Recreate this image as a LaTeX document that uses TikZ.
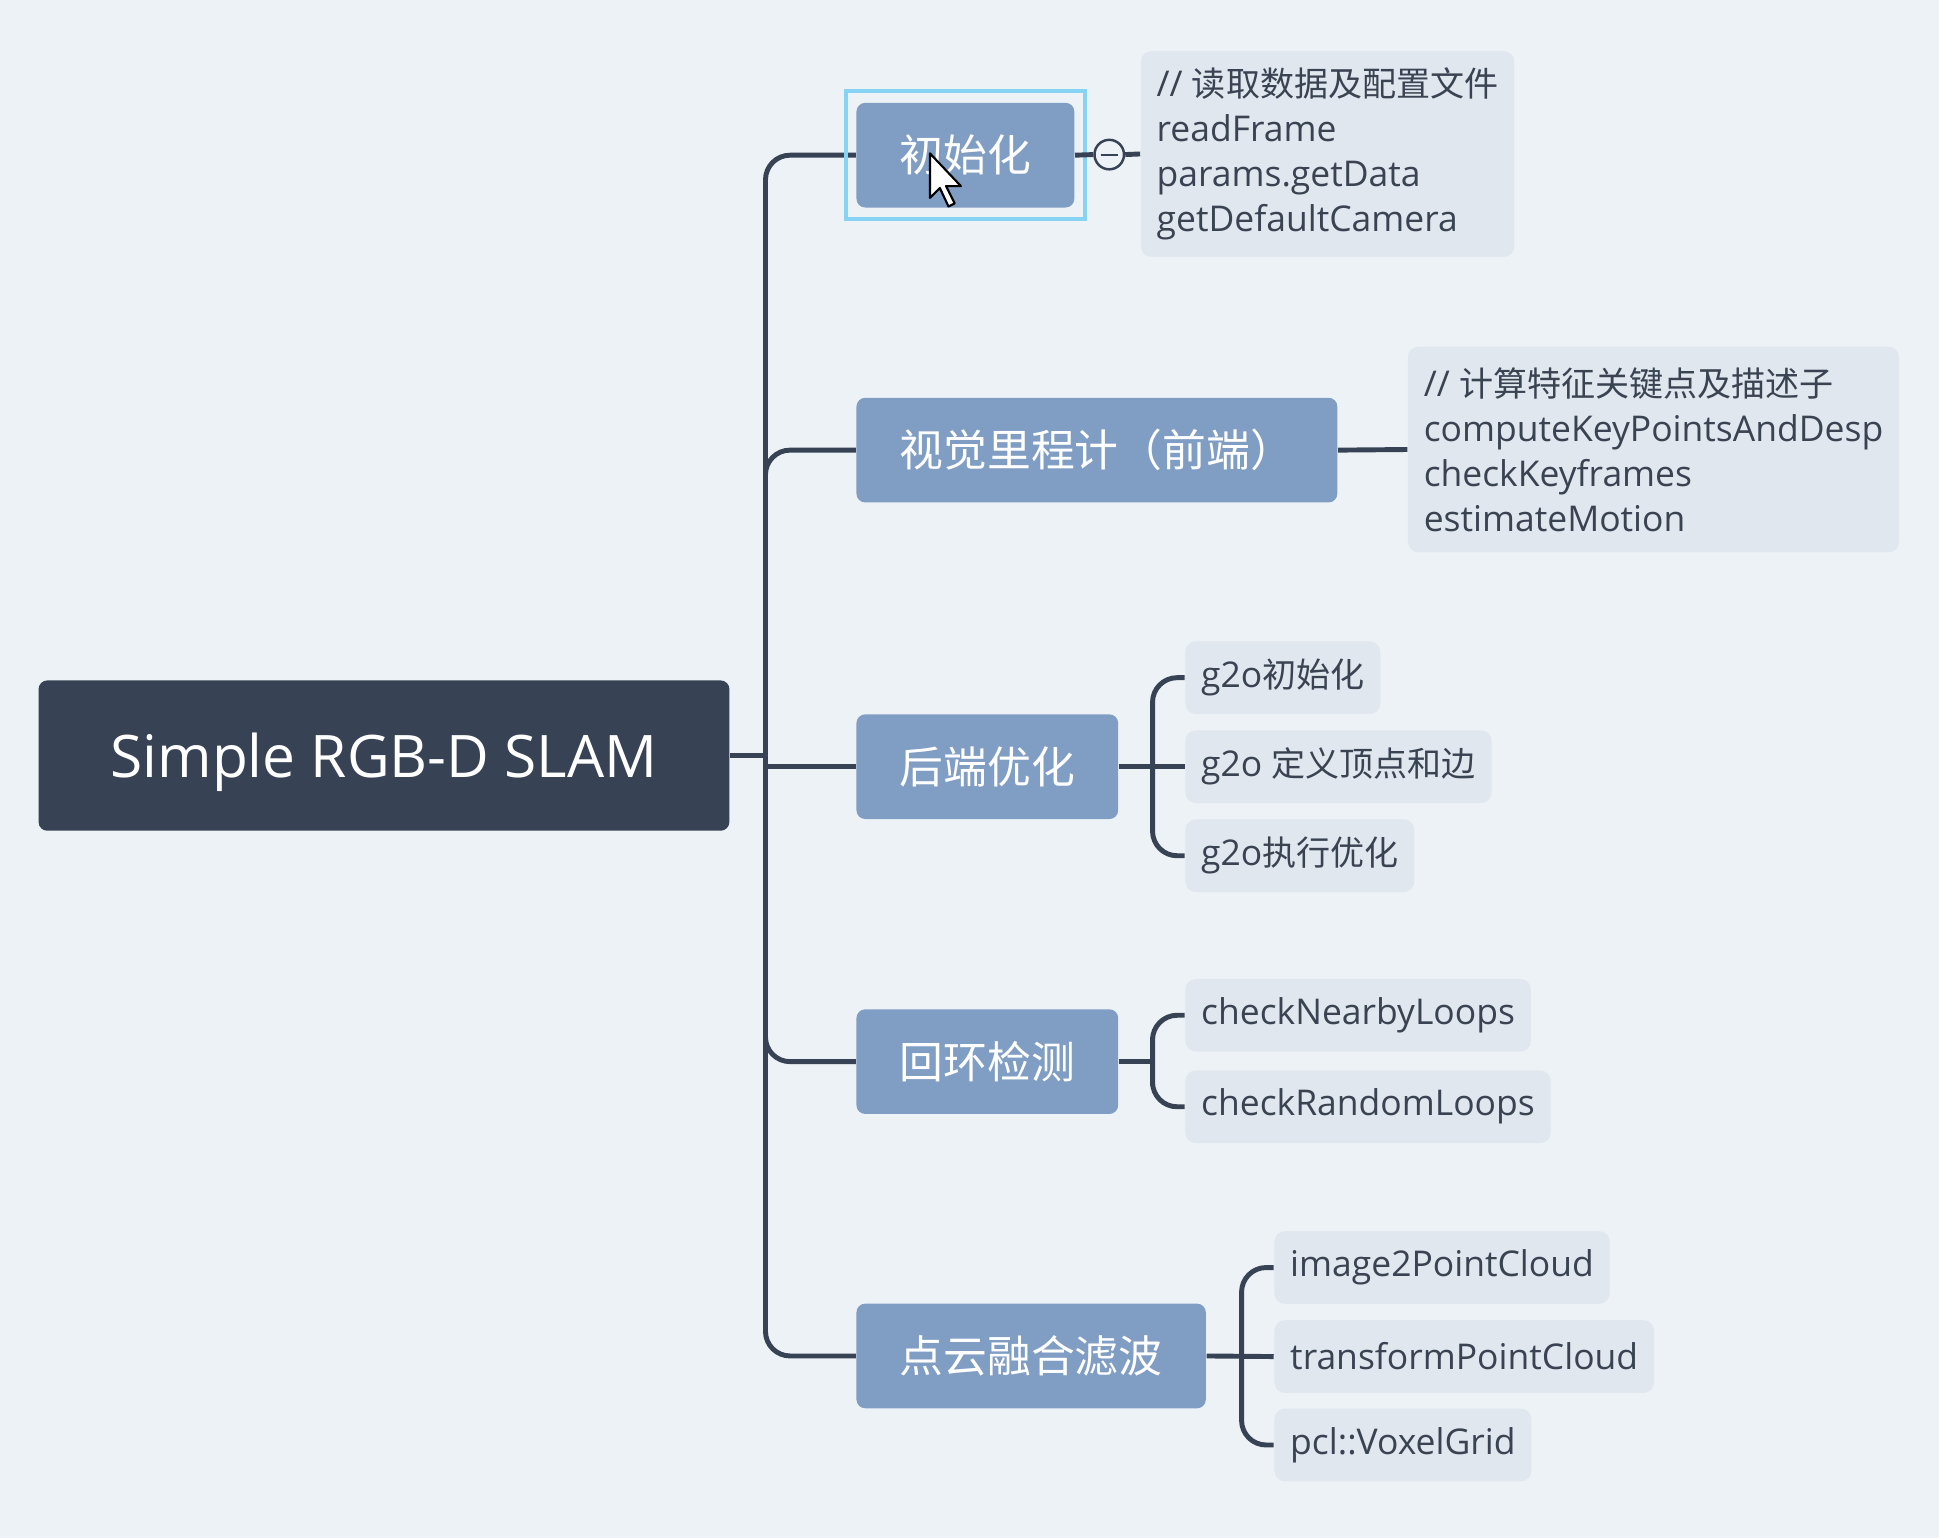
\documentclass[tikz,border=0pt]{standalone}
\usepackage{fontspec}
\setmainfont{Open Sans}
\newfontfamily\cjk[Scale=0.96]{Noto Sans CJK SC}
\usetikzlibrary{calc}

\definecolor{bgcol}{HTML}{EDF2F7}
\definecolor{rootcol}{HTML}{374254}
\definecolor{midcol}{HTML}{809DC3}
\definecolor{leafcol}{HTML}{E1E7EE}
\definecolor{txtcol}{HTML}{3A4352}
\definecolor{selcol}{HTML}{86D3F3}

\tikzset{
  link/.style={draw=rootcol, line width=1.4pt, rounded corners=7pt},
  rootbox/.style={fill=rootcol, rounded corners=2.5pt, text=white, minimum width=196.7pt,
    minimum height=42.8pt, text depth=0pt, font=\fontsize{16.7}{20}\selectfont},
  topic/.style={fill=midcol, rounded corners=2.5pt, text=white, anchor=west, inner xsep=12.3pt,
    minimum height=29.8pt, font=\fontsize{13}{15}\selectfont},
  leaf/.style={fill=leafcol, rounded corners=3pt, text=txtcol, anchor=west, inner xsep=4.5pt,
    minimum height=20.7pt, font=\fontsize{10.1}{12.8}\selectfont},
  note/.style={leaf, align=left, minimum height=58.6pt},
}

\begin{document}
\begin{tikzpicture}[x=0.01237cm,y=-0.01237cm]
   \fill[bgcol] (0,0) rectangle (1568,1244);
   \useasboundingbox (0,0) rectangle (1568,1244);

   % root and main topics
   \node[rootbox] (root) at (310.5,611) {Simple RGB-D SLAM};
   \coordinate (hub) at (619,611);
   \node[topic] (init)  at (692,125.5)  {\cjk 初始化};
   \node[topic] (vo)    at (692,364)    {\cjk 视觉里程计（前端）};
   \node[topic] (be)    at (692,620)    {\cjk 后端优化};
   \node[topic] (loop)  at (692,858.5)  {\cjk 回环检测};
   \node[topic] (cloud) at (692,1096.5) {\cjk 点云融合滤波};
   \draw[link] (root.east) -- (hub);
   \foreach \t in {init,vo,loop,cloud}
      \draw[link] (hub) |- (\t.west);
   \draw[link, sharp corners] (hub) -- (hub |- be.west) -- (be.west);

   % selection frame and fold button
   \draw[selcol, line width=1.1pt] ($(init.north west)+(-8,-9)$) rectangle ($(init.south east)+(8,9)$);
   \node[circle, draw=rootcol, fill=bgcol, line width=0.7pt, minimum size=8.4pt, inner sep=0pt]
      (fold) at (897,125) {};
   \draw[rootcol, line width=0.6pt] ($(fold.center)+(-7,0)$) -- ($(fold.center)+(7,0)$);

   % notes
   \node[note] (n1) at (922,124.5)
      {// {\cjk 读取数据及配置文件}\\readFrame\\params.getData\\getDefaultCamera};
   \node[note] (n2) at (1138,363.5)
      {// {\cjk 计算特征关键点及描述子}\\computeKeyPointsAndDesp\\checkKeyframes\\estimateMotion};
   \draw[link] (init.east) -- (fold.west);
   \draw[link] (fold.east) -- (n1.west);
   \draw[link] (vo.east) -- (n2.west);

   % back end
   \coordinate (behub) at (932,620);
   \node[leaf] (g2oa) at (958,548) {g2o{\cjk 初始化}};
   \node[leaf] (g2ob) at (958,620) {g2o {\cjk 定义顶点和边}};
   \node[leaf] (g2oc) at (958,692) {g2o{\cjk 执行优化}};
   \draw[link] (g2oa.west) -| (behub) |- (g2oc.west);
   \draw[link] (be.east) -- (g2ob.west);

   % loop closure
   \coordinate (loophub) at (932,858.5);
   \node[leaf] (nearby) at (958,821) {checkNearbyLoops};
   \node[leaf] (random) at (958,895) {checkRandomLoops};
   \draw[link] (nearby.west) -| (loophub) |- (random.west);
   \draw[link] (loop.east) -- (loophub);

   % point cloud
   \coordinate (cloudhub) at (1004,1096.5);
   \node[leaf] (imgpc)  at (1030,1025)   {image2PointCloud};
   \node[leaf] (trpc)   at (1030,1097)   {transformPointCloud};
   \node[leaf] (voxel)  at (1030,1168.5) {pcl::VoxelGrid};
   \draw[link] (imgpc.west) -| (cloudhub) |- (voxel.west);
   \draw[link] (cloud.east) -- (trpc.west);

   % mouse pointer
   \draw[fill=white, line width=0.6pt, line join=round] (752,124) -- ++(0,36) -- ++(8,-8)
      -- ++(7,15) -- ++(5,-2.5) -- ++(-7,-14) -- ++(12,0) -- cycle;
\end{tikzpicture}
\end{document}
